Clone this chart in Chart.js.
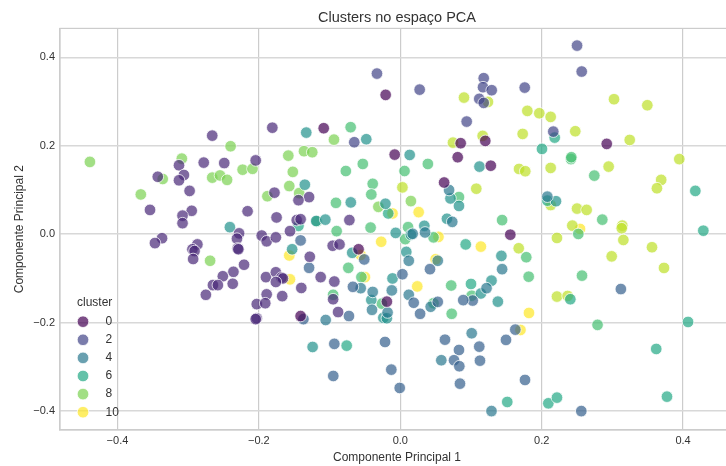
<!DOCTYPE html>
<html>
<head>
<meta charset="utf-8">
<title>Clusters no espaço PCA</title>
<script src="https://cdn.jsdelivr.net/npm/chart.js@4"></script>
<style>
    html, body { margin: 0; padding: 0; background: #fff; overflow: hidden; }
    canvas { display: block; }
</style>
</head>
<body>
<canvas id="pca-chart" width="734" height="466"></canvas>
<script>
// [componente 1, componente 2], one list per cluster
const cluster0 = [[-0.0207,0.3152],[0.1202,0.2111],[0.0854,0.2059],[0.0812,0.1742],[-0.0079,0.1801],[0.128,0.155],[0.062,0.117],[0.292,0.2043],[-0.1083,0.2398],[0.1556,-0.001],[-0.059,-0.034],[-0.019,-0.1525],[-0.141,-0.185]];
const cluster1 = [[-0.266,0.223],[-0.181,0.241],[-0.313,0.156],[-0.278,0.162],[-0.249,0.161],[-0.2045,0.167],[-0.343,0.13],[-0.306,0.134],[-0.313,0.122],[-0.298,0.098],[-0.354,0.055],[-0.295,0.053],[-0.308,0.042],[-0.308,0.025],[-0.216,0.052],[-0.178,0.094],[-0.175,0.038],[-0.228,0.002],[-0.231,-0.01],[-0.23,-0.032],[-0.229,-0.034],[-0.196,-0.003],[-0.189,-0.016],[-0.176,-0.007],[-0.337,-0.009],[-0.347,-0.02],[-0.287,-0.023],[-0.294,-0.034],[-0.291,-0.038],[-0.293,-0.056],[-0.221,-0.069],[-0.236,-0.085],[-0.251,-0.095],[-0.19,-0.097],[-0.176,-0.086],[-0.168,-0.098],[-0.166,-0.1],[-0.176,-0.108],[-0.265,-0.115],[-0.258,-0.115],[-0.237,-0.112],[-0.275,-0.137],[-0.189,-0.136],[-0.167,-0.14],[-0.203,-0.158],[-0.191,-0.156],[-0.203,-0.19],[-0.2045,-0.192],[-0.129,0.084],[-0.144,0.077],[-0.1465,0.032],[-0.141,0.034],[-0.156,0.007],[-0.0956,-0.026],[-0.086,-0.023],[-0.128,-0.051],[-0.1126,-0.097],[-0.0933,-0.107],[-0.14,-0.1215],[-0.095,-0.147],[-0.088,-0.176],[-0.072,0.032]];
const cluster2 = [[-0.033,0.3634],[0.0274,0.3271],[0.118,0.353],[0.117,0.3326],[0.1293,0.3258],[0.1117,0.3061],[0.118,0.2971],[0.0939,0.2548],[0.25,0.4267],[0.2566,0.368],[0.176,0.3317],[0.2164,0.2321],[-0.0651,0.2081]];
const cluster3 = [[-0.141,-0.014],[-0.051,-0.057],[0.042,-0.079],[-0.129,-0.076],[0.003,-0.0905],[-0.067,-0.119],[0.019,-0.155],[0.053,-0.153],[0.1024,-0.15],[0.089,-0.149],[0.028,-0.18],[-0.0726,-0.185],[-0.137,-0.192],[-0.0933,-0.248],[-0.0216,-0.2437],[-0.0948,-0.3206],[-0.0127,-0.3063],[-0.0008,-0.3477],[0.0632,-0.2385],[0.083,-0.2618],[0.1117,-0.2543],[0.076,-0.285],[0.0835,-0.2986],[0.1127,-0.286],[0.0844,-0.338],[0.1495,-0.239],[0.1627,-0.2158],[0.1764,-0.3296],[0.256,-0.4],[0.312,-0.124]];
const cluster4 = [[0.069,0.1],[0.0735,0.028],[0.0175,0.001],[0.035,0.004],[0.012,-0.06],[0.053,-0.06],[0.144,-0.079],[-0.056,-0.122],[-0.012,-0.127],[0.122,-0.122],[0.012,-0.137],[0.043,-0.164],[-0.039,-0.1305],[-0.04,-0.171],[-0.018,-0.177],[-0.1055,-0.194],[0.101,-0.224],[0.058,-0.285],[0.129,-0.4],[0.208,0.085]];
const cluster5 = [[-0.241,0.016],[0.112,0.153],[0.071,0.081],[0.083,0.064],[-0.135,0.112],[-0.07,0.072],[-0.021,0.069],[0.066,0.035],[-0.119,0.03],[-0.106,0.033],[0.034,0.019],[-0.0065,0.003],[0.015,-0.001],[-0.153,-0.034],[-0.068,-0.042],[0.0085,-0.04],[0.143,-0.049],[-0.011,-0.1],[0.129,-0.105],[0.114,-0.134],[0.138,-0.1525],[-0.041,-0.1487],[-0.024,-0.189],[-0.019,-0.19],[-0.124,-0.255],[0.2202,0.0747],[-0.133,0.2299],[-0.0481,0.2149],[0.0133,0.1794]];
const cluster6 = [[-0.144,0.019],[-0.017,0.047],[0.0925,-0.023],[0.1,-0.1125],[-0.0758,-0.252],[0.1513,-0.3794],[0.2094,-0.3824],[0.2216,-0.3696],[0.2405,-0.147],[0.362,-0.2595],[0.407,-0.1984],[0.3772,-0.3674],[0.4173,0.098],[0.4286,0.008],[0.208,0.076],[0.2184,0.2186],[0.2004,0.193]];
const cluster7 = [[-0.077,0.143],[-0.053,0.159],[0.006,0.143],[0.039,0.159],[0.083,0.084],[-0.039,0.114],[-0.041,0.09],[-0.091,0.071],[0.144,0.032],[-0.09,0.007],[-0.042,0.015],[0.011,0.016],[0.007,-0.011],[0.047,-0.007],[-0.0735,-0.076],[-0.055,-0.097],[0.072,-0.116],[0.101,-0.139],[-0.095,-0.137],[0.047,-0.156],[-0.026,-0.157],[0.0727,-0.18],[0.279,-0.205],[0.2414,0.17],[0.2744,0.1326],[0.2857,0.033],[0.2518,0.0007],[0.1782,-0.052],[0.1816,-0.096],[0.257,-0.0937],[-0.0702,0.2421],[0.2419,0.1742],[-0.118,0.029]];
const cluster8 = [[-0.439,0.1636],[-0.24,0.199],[-0.309,0.171],[-0.223,0.146],[-0.209,0.148],[-0.336,0.125],[-0.266,0.128],[-0.255,0.133],[-0.245,0.123],[-0.367,0.09],[-0.188,0.086],[-0.269,-0.06],[-0.152,0.141],[-0.157,0.109],[-0.143,0.093],[0.015,0.075],[-0.031,0.062],[-0.0938,0.214],[-0.1362,0.1878],[-0.1245,0.1855],[-0.1584,0.1778]];
const cluster9 = [[0.003,0.106],[0.1075,0.103],[0.168,0.1477],[0.1768,0.1425],[0.2127,0.15],[0.2947,0.153],[0.3946,0.17],[0.369,0.1229],[0.363,0.104],[0.2127,0.066],[0.25,0.058],[0.2636,0.055],[0.2433,0.0195],[0.314,0.0195],[0.3132,0.0136],[0.3155,-0.013],[0.2216,-0.0084],[0.356,-0.0294],[0.299,-0.05],[0.373,-0.0762],[0.1675,-0.0317],[0.2216,-0.141],[0.2367,-0.1396],[0.3023,0.3054],[0.3494,0.2918],[0.1797,0.279],[0.1966,0.2737],[0.2127,0.2654],[0.1731,0.2269],[0.2475,0.233],[0.3245,0.2133],[0.0901,0.3091],[0.124,0.2993],[0.1165,0.2224],[0.0745,0.2072]];
const cluster10 = [[-0.011,0.047],[0.026,0.05],[0.054,-0.006],[0.114,-0.028],[-0.027,-0.017],[-0.157,-0.048],[-0.056,-0.047],[0.05,-0.0565],[-0.156,-0.102],[-0.05,-0.097],[0.024,-0.118],[0.182,-0.178],[0.17,-0.2165],[0.2542,0.012]];

const clusters = [cluster0, cluster1, cluster2, cluster3, cluster4, cluster5, cluster6, cluster7, cluster8, cluster9, cluster10];
const xTicks = [-0.4, -0.2, 0, 0.2, 0.4];
const yTicks = [-0.4, -0.2, 0, 0.2, 0.4];
const legendLabels = [0, 2, 4, 6, 8, 10];

// viridis, same ramp seaborn gives a numeric hue
const viridis = ['68, 1, 84', '72, 40, 120', '65, 68, 135', '53, 95, 141', '42, 120, 142', '33, 145, 140', '34, 168, 132', '68, 191, 112', '122, 209, 81', '189, 223, 38', '253, 231, 37'];
const fontFamily = '"Liberation Sans", Arial, sans-serif';
const textColor = '#333333';

const datasets = clusters.map((points, index) => ({
    label: String(index),
    data: points.map(p => ({ x: p[0], y: p[1] })),
    backgroundColor: `rgba(${viridis[index]}, 0.7)`,
    borderColor: 'rgba(255, 255, 255, 0.75)',
    borderWidth: 1,
    pointRadius: 5.8,
    pointHoverRadius: 5.8
}));

// top and right edge of the axes box, the scales only give left and bottom
const framePlugin = {
    id: 'frame',
    beforeDatasetsDraw(chart) {
        const { ctx, chartArea } = chart;
        ctx.save();
        ctx.strokeStyle = '#cccccc';
        ctx.lineWidth = 1.2;
        ctx.strokeRect(chartArea.left, chartArea.top, chartArea.right - chartArea.left, chartArea.bottom - chartArea.top);
        ctx.restore();
    }
};

// legend sits inside the axes at lower left, matplotlib style
const insideLegendPlugin = {
    id: 'insideLegend',
    afterDatasetsDraw(chart) {
        const { ctx } = chart;
        ctx.save();
        ctx.font = `12px ${fontFamily}`;
        ctx.fillStyle = textColor;
        ctx.textBaseline = 'middle';
        ctx.textAlign = 'left';
        ctx.fillText('cluster', 77, 303);
        legendLabels.forEach((label, row) => {
            const y = 321.7 + row * 18.1;
            ctx.beginPath();
            ctx.arc(83, y, 5.8, 0, Math.PI * 2);
            ctx.fillStyle = `rgba(${viridis[label]}, 0.7)`;
            ctx.fill();
            ctx.lineWidth = 1;
            ctx.strokeStyle = 'rgba(255, 255, 255, 0.75)';
            ctx.stroke();
            ctx.fillStyle = textColor;
            ctx.fillText(String(label), 105.5, y);
        });
        ctx.restore();
    }
};

const tickLabel = value => value === 0 ? '0.0' : (value < 0 ? '\u2212' : '') + Math.abs(value).toFixed(1);

new Chart(document.getElementById('pca-chart'), {
    type: 'scatter',
    data: { datasets },
    plugins: [framePlugin, insideLegendPlugin],
    options: {
        responsive: false,
        animation: false,
        layout: { padding: 0, autoPadding: false },
        plugins: {
            legend: { display: false },
            tooltip: { enabled: false },
            title: {
                display: true,
                fullSize: false,
                text: 'Clusters no espaço PCA',
                color: textColor,
                font: { family: fontFamily, size: 14.5, weight: 'normal' },
                padding: { top: 9.5, bottom: 1.5 }
            }
        },
        scales: {
            x: {
                type: 'linear',
                min: -0.4813,
                max: 0.472,
                afterBuildTicks: axis => { axis.ticks = xTicks.map(value => ({ value })); },
                afterFit: axis => { axis.height = 36; axis.paddingLeft = 0; axis.paddingRight = 0; },
                grid: { color: '#cccccc', lineWidth: 1.2, drawTicks: false },
                border: { color: '#cccccc', width: 1.2 },
                ticks: { color: textColor, padding: 4, font: { family: fontFamily, size: 11 }, callback: tickLabel, maxRotation: 0 },
                title: { display: true, text: 'Componente Principal 1', color: textColor, font: { family: fontFamily, size: 12 }, padding: { top: 0, bottom: 1.5 } }
            },
            y: {
                type: 'linear',
                min: -0.4428,
                max: 0.4656,
                afterBuildTicks: axis => { axis.ticks = yTicks.map(value => ({ value })); },
                afterFit: axis => { axis.width = 60; axis.paddingTop = 0; axis.paddingBottom = 0; },
                grid: { color: '#d8d8d8', lineWidth: 1.5, drawTicks: false },
                border: { color: '#cccccc', width: 1.2 },
                ticks: { color: textColor, padding: 5, font: { family: fontFamily, size: 11 }, callback: tickLabel },
                title: { display: true, text: 'Componente Principal 2', color: textColor, font: { family: fontFamily, size: 12 }, padding: { top: 12, bottom: 0 } }
            }
        }
    }
});
</script>
</body>
</html>
